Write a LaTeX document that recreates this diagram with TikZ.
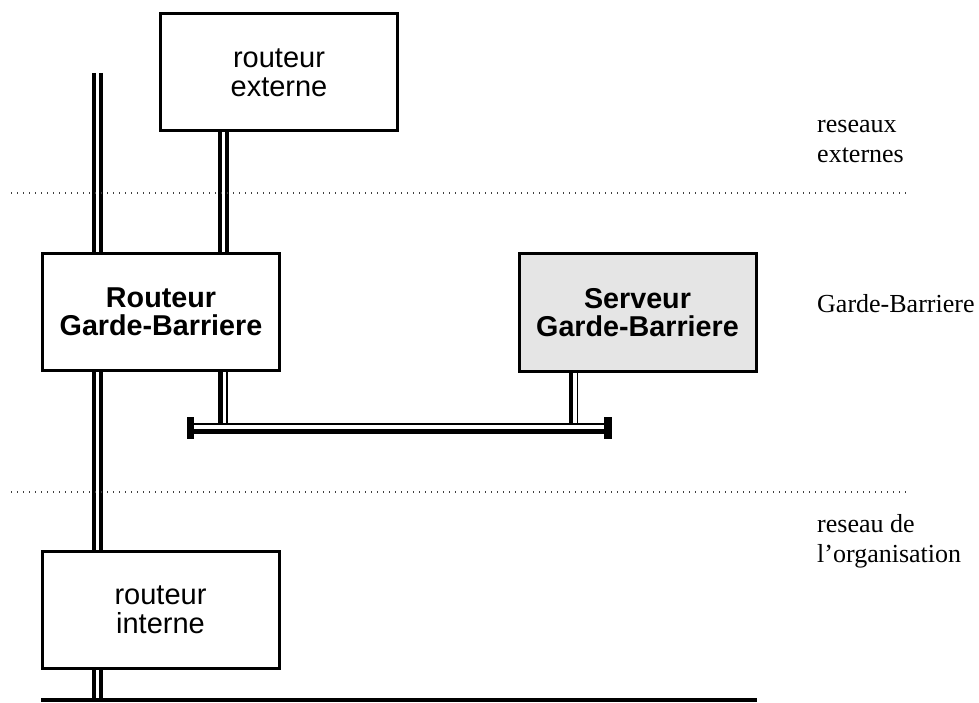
\documentclass[tikz,border=0pt]{standalone}
\usepackage{fontspec}
\setmainfont{Liberation Serif}
\newfontfamily\boxfont{Liberation Sans}
\definecolor{gwgray}{gray}{0.9}
\definecolor{dotgray}{gray}{0.25}

\begin{document}
\begin{tikzpicture}[x=1pt,y=-1pt,
  box/.style={draw=black, line width=3pt, fill=white, minimum width=237pt,
    minimum height=117pt, inner sep=0pt, align=center,
    font=\boxfont\fontsize{29}{29}\selectfont},
  gwbox/.style={box, font=\boxfont\bfseries\fontsize{28.7}{28.5}\selectfont},
  cable/.style={draw=black, line width=4pt, double=white, double distance=3pt},
  heavywire/.style={draw=black, line width=4.4pt},
  lightwire/.style={draw=black, line width=1.9pt},
  zone/.style={draw=dotgray, line width=1.3pt, dash pattern=on 1.4pt off 4.6pt},
  zonelabel/.style={anchor=base west, align=left, inner sep=0pt,
    font=\fontsize{26}{30}\selectfont},
  busend/.style={fill=black}]
\useasboundingbox (0,0) rectangle (979,703);

% equipment
\node[box] (ext) at (279,72.5) {routeur\\externe};
\node[gwbox] (rgb) at (161,312) {Routeur\\Garde-Barriere};
\node[gwbox, fill=gwgray] (sgb) at (637.5,312.5) {Serveur\\Garde-Barriere};
\node[box] (int) at (160.5,610) {routeur\\interne};

% reference points for the cables
\coordinate (trunk) at (97,73);
\coordinate (extlink) at (223.5,0);
\coordinate (lanL) at (41,700);
\coordinate (lanR) at (757,700);
\coordinate (tapA) at (223.7,424);
\coordinate (tapB) at (574.2,424);

% main trunk and external link
\draw[cable] (trunk) -- (rgb.north -| trunk);
\draw[cable] (rgb.south -| trunk) -- (int.north -| trunk);
\draw[cable] (int.south -| trunk) -- (trunk |- lanL);
\draw[cable] (ext.south -| extlink) -- (rgb.north -| extlink);

% internal LAN
\draw[line width=4pt] (lanL) -- (lanR);

% perimeter segment between the two gateways
\draw[lightwire] (190,424) -- (608,424);
\draw[heavywire] (190,431.3) -- (608,431.3);
\fill[busend] (186.7,416.7) rectangle (194,439);
\fill[busend] (604.3,416.7) rectangle (611.7,439);

\draw[heavywire] ([xshift=-3.2pt]rgb.south -| tapA) -- ([xshift=-3.2pt]tapA);
\draw[lightwire] ([xshift=3.3pt]rgb.south -| tapA) -- ([xshift=3.3pt]tapA);
\draw[heavywire] ([xshift=-3.2pt]sgb.south -| tapB) -- ([xshift=-3.2pt]tapB);
\draw[lightwire] ([xshift=3.3pt]sgb.south -| tapB) -- ([xshift=3.3pt]tapB);

% zone boundaries
\draw[zone] (11,193) -- (906,193);
\draw[zone] (11,492) -- (906,492);

% zone names (anchored on the baseline of the last line)
\node[zonelabel] (zext) at (817,163) {reseaux\\externes};
\node[zonelabel] (zgb) at (817,312) {Garde-Barriere};
\node[zonelabel] (zorg) at (817,562) {reseau de\\l’organisation};
\end{tikzpicture}
\end{document}
